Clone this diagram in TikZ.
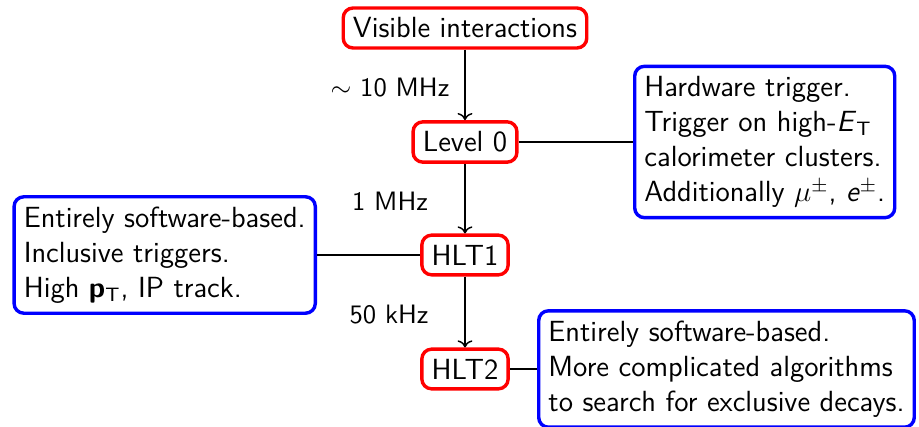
\documentclass[12pt,tikz,border=0pt]{standalone}
\usepackage{amsmath,amssymb}
\usetikzlibrary{arrows.meta,positioning}

\begin{document}
\begin{tikzpicture}[x=0.4115pt, y=-0.4115pt,
    every node/.style={font=\sffamily},
    trig/.style={draw=red, line width=1.4pt, rounded corners=4pt},
    note/.style={draw=blue, line width=1.4pt, rounded corners=4pt, align=left},
    rate/.style={font=\sffamily\small}]
  \useasboundingbox (0,0) rectangle (919,427);
  % trigger levels
  \node[trig] (vis) at (465,28) {Visible interactions};
  \node[trig] (l0) at (465,142) {Level 0};
  \node[trig] (hlt1) at (465,255) {HLT1};
  \node[trig] (hlt2) at (465,369) {HLT2};
  % rates
  \node[rate] (r0) at (390,88) {$\sim$ 10 MHz};
  \node[rate] (r1) at (390,201) {1 MHz};
  \node[rate] (r2) at (389,315) {50 kHz};
  \draw[semithick, ->] (vis) -- (l0);
  \draw[semithick, ->] (l0) -- (hlt1);
  \draw[semithick, ->] (hlt1) -- (hlt2);
  % descriptions
  \node[note, anchor=west] (hw) at (633,142) {Hardware trigger.\\ Trigger on high-\textit{E}$_{\text{T}}$\\ calorimeter clusters.\\ Additionally $\mu^{\pm}$, \textit{e}$^{\pm}$.};
  \node[note, anchor=east] (sw1) at (317,255) {Entirely software-based.\\ Inclusive triggers.\\ High \textbf{p}$_{\text{T}}$, IP track.};
  \node[note, anchor=west] (sw2) at (537,369) {Entirely software-based.\\ More complicated algorithms\\ to search for exclusive decays.};
  \draw[semithick] (l0) -- (hw);
  \draw[semithick] (hlt1) -- (sw1);
  \draw[semithick] (hlt2) -- (sw2);
\end{tikzpicture}
\end{document}
